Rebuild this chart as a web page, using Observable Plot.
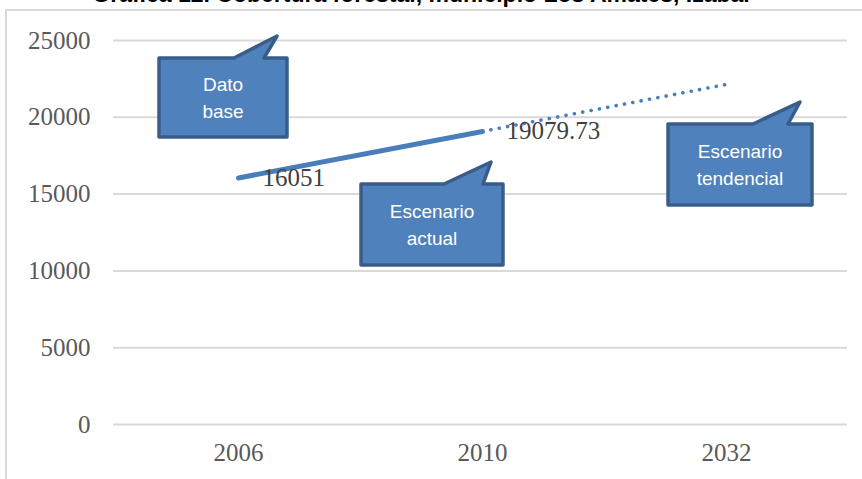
<!DOCTYPE html>
<html>
<head>
<meta charset="utf-8">
<script src="https://cdn.jsdelivr.net/npm/d3@7"></script>
<script src="https://cdn.jsdelivr.net/npm/@observablehq/plot@0.6"></script>
<style>
  html, body { margin: 0; padding: 0; background: #fff; }
  #wrap { position: relative; width: 862px; height: 479px; overflow: hidden; }
  #frame { position: absolute; left: 5px; top: 9px; width: 900px; height: 500px;
           border-left: 2px solid #d9d9d9; border-top: 2px solid #d9d9d9; }
  #title { position: absolute; left: 0; top: -17px; width: 842px; text-align: center;
           font: bold 23px/23px "Liberation Sans", Arial, sans-serif; color: #000; white-space: nowrap; }
  #chart { position: absolute; left: 0; top: 0; }
</style>
</head>
<body>
<div id="wrap">
  <div id="frame"></div>
  <div id="title">Gráfica 12. Cobertura forestal, municipio Los Amates, Izabal</div>
  <div id="chart"></div>
</div>
<script>
// ---- data ----
const categories = ["2006", "2010", "2032"];
const actualCategories = ["2006", "2010"];
const actualValues = [16051, 19079.73];
const trendCategories = ["2010", "2032"];
const trendValues = [19079.73, 22140];
const yTicks = [0, 5000, 10000, 15000, 20000, 25000];
const calloutCategories = ["2006", "2010", "2032"];
const calloutLines = [["Dato", "base"], ["Escenario", "actual"], ["Escenario", "tendencial"]];

const actual = actualCategories.map((c, i) => ({cat: c, value: actualValues[i]}));
const trend = trendCategories.map((c, i) => ({cat: c, value: trendValues[i]}));

const blue = "#4a7ebb";

const plot = Plot.plot({
  width: 862,
  height: 479,
  marginTop: 40,
  marginBottom: 55,
  marginLeft: 115,
  marginRight: 13,
  x: {type: "point", domain: categories, padding: 0.5, label: null},
  y: {domain: [0, 25000], label: null},
  style: {fontFamily: "'Liberation Serif', serif", fontSize: "25px", color: "#595959", background: "transparent", overflow: "visible"},
  marks: [
    Plot.ruleY(yTicks, {stroke: "#d9d9d9", strokeWidth: 2, strokeOpacity: 1, insetLeft: -2, insetRight: 2}),
    Plot.axisY({ticks: yTicks, tickSize: 0, tickPadding: 25, tickFormat: d3.format("d"), label: null, fill: "#595959"}),
    Plot.axisX({tickSize: 0, tickPadding: 19, label: null, fill: "#595959"}),
    Plot.line(trend, {x: "cat", y: "value", stroke: blue, strokeWidth: 3.6, strokeDasharray: "0.1 8.4", strokeLinecap: "round"}),
    Plot.line(actual, {x: "cat", y: "value", stroke: blue, strokeWidth: 5, strokeLinecap: "round"}),
    Plot.text(actual, {x: "cat", y: "value", text: d => String(d.value), textAnchor: "start", dx: 24, dy: 0, fill: "#404040", fontSize: 25})
  ]
});
document.getElementById("chart").appendChild(plot);

// ---- callouts (annotation layout, drawn through the plot's scales) ----
const xs = plot.scale("x"), ys = plot.scale("y");
const calloutLayout = [
  {value: 23828, dx: -79, w: 128, h: 79, b0: 75, b1: 105, tx: 118, ty: -22},
  {value: 15625, dx: -121, w: 142, h: 81, b0: 83, b1: 122, tx: 130, ty: -22},
  {value: 19531, dx: -58, w: 144, h: 81, b0: 85, b1: 120, tx: 132, ty: -22}
];
const svg = d3.select(plot);
const g = svg.append("g");
calloutCategories.forEach((cat, i) => {
  const L = calloutLayout[i];
  const left = xs.apply(cat) + L.dx;
  const top = ys.apply(L.value);
  const p = d3.path();
  p.moveTo(left, top);
  p.lineTo(left + L.b0, top);
  p.lineTo(left + L.tx, top + L.ty);
  p.lineTo(left + L.b1, top);
  p.lineTo(left + L.w, top);
  p.lineTo(left + L.w, top + L.h);
  p.lineTo(left, top + L.h);
  p.closePath();
  g.append("path").attr("d", p.toString())
    .attr("fill", "#4f81bd").attr("stroke", "#385d8a").attr("stroke-width", 3.5)
    .attr("stroke-linejoin", "round");
  const cx = left + L.w / 2, cy = top + L.h / 2;
  const lines = calloutLines[i];
  lines.forEach((t, j) => {
    g.append("text").attr("x", cx).attr("y", cy + (j - (lines.length - 1) / 2) * 27)
      .attr("text-anchor", "middle").attr("dy", "0.35em")
      .attr("fill", "#fff").attr("font-family", "'Liberation Sans', Arial, sans-serif")
      .attr("font-size", 19).text(t);
  });
});
</script>
</body>
</html>
